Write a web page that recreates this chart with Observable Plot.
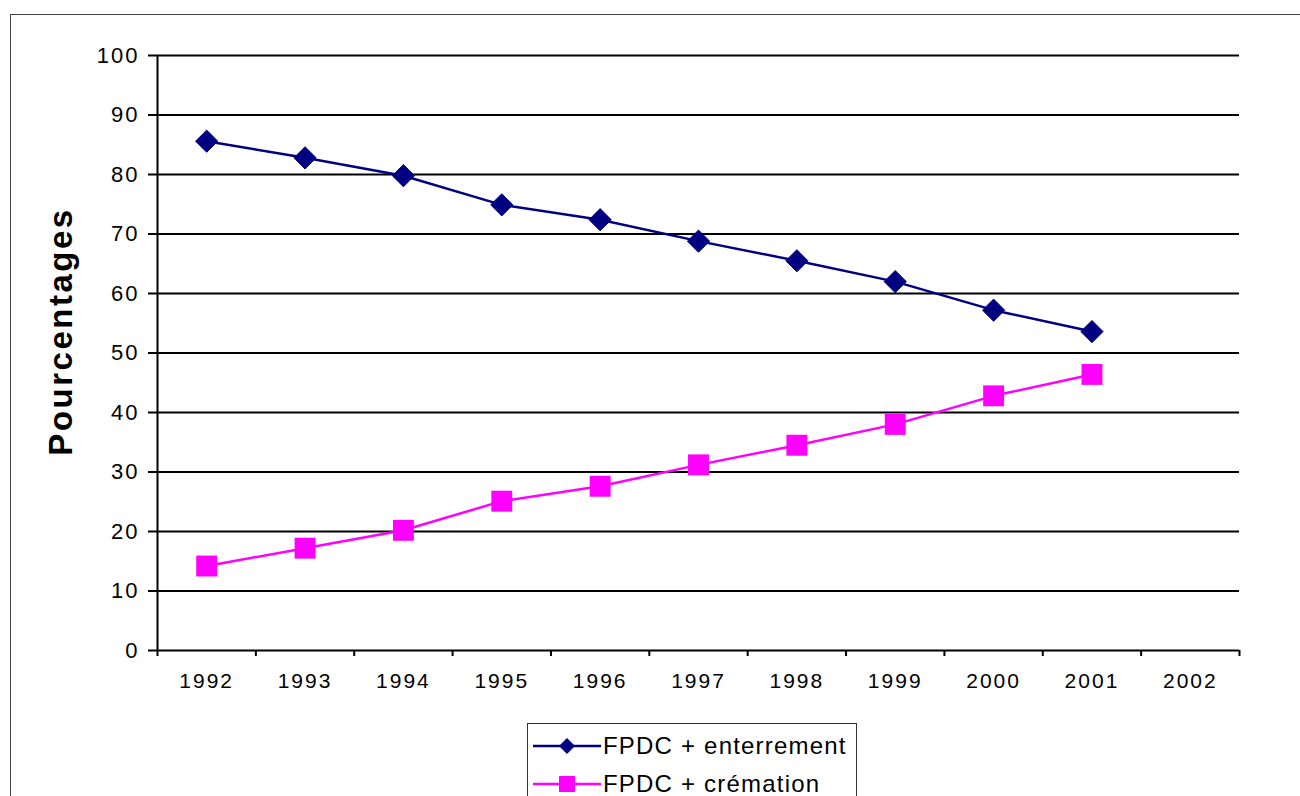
<!DOCTYPE html>
<html>
<head>
<meta charset="utf-8">
<script src="https://cdn.jsdelivr.net/npm/d3@7"></script>
<script src="https://cdn.jsdelivr.net/npm/@observablehq/plot@0.6"></script>
<style>
  html, body { margin: 0; padding: 0; background: #fff; }
  #page { position: relative; width: 1300px; height: 796px; overflow: hidden; font-family: "Liberation Sans", Arial, sans-serif; }
  #frame { position: absolute; left: 10px; top: 14px; width: 1400px; height: 900px; border: 1.5px solid #444; }
  #chart { position: absolute; left: 0; top: 0; }
  #chart svg text { letter-spacing: 2px; }
  #chart svg text.ylab { letter-spacing: 2.5px; }
  #legend { position: absolute; left: 527px; top: 723px; width: 328px; height: 120px; border: 1.3px solid #333; background: #fff; }
  .row { position: absolute; left: 0; height: 36px; display: flex; align-items: center; }
  .row span { font-size: 24px; letter-spacing: 1.2px; color: #000; margin-left: -1px; }
</style>
</head>
<body>
<div id="page">
  <div id="frame"></div>
  <div id="chart"></div>
  <div id="legend"></div>
</div>
<script>
// ---- data ----
const years = [1992, 1993, 1994, 1995, 1996, 1997, 1998, 1999, 2000, 2001];
const axisYears = [1992, 1993, 1994, 1995, 1996, 1997, 1998, 1999, 2000, 2001, 2002];
const enterrement = [85.6, 82.8, 79.8, 74.9, 72.4, 68.8, 65.5, 62.0, 57.2, 53.6];
const cremation = [14.2, 17.2, 20.2, 25.1, 27.6, 31.2, 34.5, 38.0, 42.8, 46.4];
const yTicks = [0, 10, 20, 30, 40, 50, 60, 70, 80, 90, 100];
const seriesNames = ["FPDC + enterrement", "FPDC + crémation"];
const yLabel = "Pourcentages";

const navy = "#000080";
const magenta = "#FF00FF";

const rowsE = years.map((y, i) => ({year: y, value: enterrement[i]}));
const rowsC = years.map((y, i) => ({year: y, value: cremation[i]}));
const bounds = axisYears.map(y => y - 0.5).concat([axisYears[axisYears.length - 1] + 0.5]);

const chart = Plot.plot({
  width: 1300,
  height: 700,
  marginLeft: 157,
  marginRight: 61,
  marginTop: 55,
  marginBottom: 50,
  style: {fontFamily: "'Liberation Sans', Arial, sans-serif", fontSize: "21px", background: "transparent"},
  x: {type: "linear", domain: [bounds[0], bounds[bounds.length - 1]], axis: null},
  y: {domain: [0, 100], axis: null},
  marks: [
    Plot.ruleY(yTicks.filter(d => d > 0), {stroke: "#000", strokeWidth: 2}),
    Plot.axisY({ticks: yTicks, tickSize: 9, tickPadding: 9, fontSize: 22, strokeWidth: 2, stroke: "#000", label: null, tickFormat: d => String(d)}),
    Plot.axisX({ticks: bounds, tickSize: 6, strokeWidth: 2, stroke: "#000", tickFormat: () => "", label: null}),
    Plot.axisX({ticks: axisYears, tickSize: 0, tickPadding: 23, fontSize: 21, label: null, tickFormat: d => String(d)}),
    Plot.ruleX([bounds[0]], {y1: 0, y2: 100, stroke: "#000", strokeWidth: 2}),
    Plot.ruleY([0], {stroke: "#000", strokeWidth: 2}),
    Plot.line(rowsE, {x: "year", y: "value", stroke: navy, strokeWidth: 2.5}),
    Plot.line(rowsC, {x: "year", y: "value", stroke: magenta, strokeWidth: 2.5}),
    Plot.dot(rowsE, {x: "year", y: "value", symbol: "diamond2", r: 10, fill: navy, stroke: navy, strokeWidth: 1}),
    Plot.dot(rowsC, {x: "year", y: "value", symbol: "square", r: 11.8, fill: magenta, stroke: "none"}),
    Plot.text([yLabel], {frameAnchor: "left", textAnchor: "middle", rotate: -90, dx: -96, dy: -21.5, fontSize: 33, fontWeight: "bold", fill: "#000", className: "ylab"})
  ]
});
document.getElementById("chart").appendChild(chart);
// tag the vertical title so it gets its own letter spacing
chart.querySelectorAll("text").forEach(t => { if (t.textContent === yLabel) t.classList.add("ylab"); });

// ---- legend ----
const legend = document.getElementById("legend");
const legendItems = [
  {name: seriesNames[0], color: navy, shape: "diamond", top: 4},
  {name: seriesNames[1], color: magenta, shape: "square", top: 42}
];
for (const it of legendItems) {
  const row = document.createElement("div");
  row.className = "row";
  row.style.top = it.top + "px";
  const svgNS = "http://www.w3.org/2000/svg";
  const s = document.createElementNS(svgNS, "svg");
  s.setAttribute("width", 76); s.setAttribute("height", 36);
  const ln = document.createElementNS(svgNS, "line");
  ln.setAttribute("x1", 5); ln.setAttribute("x2", 73); ln.setAttribute("y1", 18); ln.setAttribute("y2", 18);
  ln.setAttribute("stroke", it.color); ln.setAttribute("stroke-width", 2.5);
  s.appendChild(ln);
  if (it.shape === "diamond") {
    const p = document.createElementNS(svgNS, "path");
    p.setAttribute("d", "M39,10 L47,18 L39,26 L31,18 Z");
    p.setAttribute("fill", it.color);
    s.appendChild(p);
  } else {
    const r = document.createElementNS(svgNS, "rect");
    r.setAttribute("x", 31); r.setAttribute("y", 10); r.setAttribute("width", 16); r.setAttribute("height", 16);
    r.setAttribute("fill", it.color);
    s.appendChild(r);
  }
  row.appendChild(s);
  const t = document.createElement("span");
  t.textContent = it.name;
  row.appendChild(t);
  legend.appendChild(row);
}
</script>
</body>
</html>
